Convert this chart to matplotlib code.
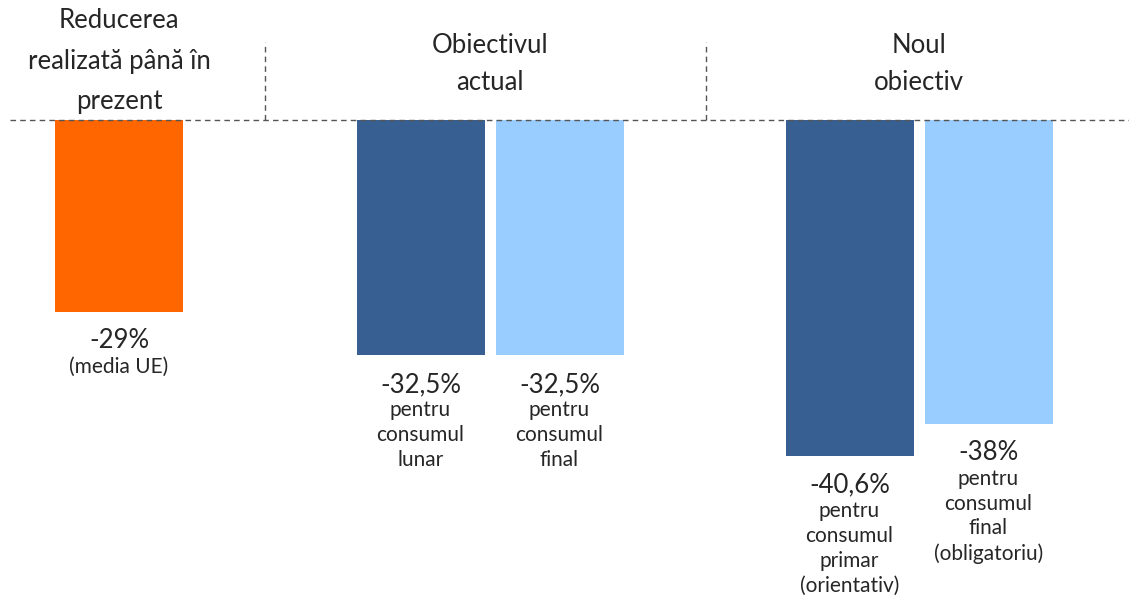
import matplotlib.pyplot as plt

plt.rcParams['font.family'] = ['Lato', 'DejaVu Sans']

# date
group_titles = ["Reducerea\nrealizată până în\nprezent", "Obiectivul\nactual", "Noul\nobiectiv"]
bar_groups = [0, 1, 1, 2, 2]
values = [-29, -32.5, -32.5, -40.6, -38]
value_labels = ["-29%", "-32,5%", "-32,5%", "-40,6%", "-38%"]
descriptions = [
    "(media UE)",
    "pentru\nconsumul\nlunar",
    "pentru\nconsumul\nfinal",
    "pentru\nconsumul\nprimar\n(orientativ)",
    "pentru\nconsumul\nfinal\n(obligatoriu)",
]
colors = ["#FF6600", "#375F91", "#99CCFF", "#375F91", "#99CCFF"]

# asezare (unitati ~ pixeli)
W, H = 1129, 602
top_px = 120
group_centers = [119, 490, 919]
step, width = 139, 128

fig = plt.figure(figsize=(W / 100, H / 100), dpi=100)
ax = fig.add_axes([0, 0, 1, (H - top_px) / H])
ax.set_xlim(0, W)
ax.set_ylim(-52.3, -13.6)
ax.axis("off")

# pozitia fiecarei bare in grupul ei
xs = []
for i, g in enumerate(bar_groups):
    n = bar_groups.count(g)
    k = bar_groups[:i].count(g)
    xs.append(group_centers[g] + (k - (n - 1) / 2) * step)

ax.bar(xs, values, width=width, color=colors)

txt = "#262626"
for x, v, lab, desc in zip(xs, values, value_labels, descriptions):
    ax.annotate(lab, xy=(x, v), xytext=(0, -29), textcoords="offset pixels",
                ha="center", va="center", fontsize=18.5, color=txt)
    ax.annotate(desc, xy=(x, v), xytext=(0, -45), textcoords="offset pixels",
                ha="center", va="top", fontsize=15, color=txt, linespacing=1.3)

# titluri de grup
frac = lambda py: (H - py) / (H - top_px)
tr = ax.get_xaxis_transform()
title_y = [61, 64, 64]
title_ls = [1.78, 1.56, 1.6]
for c, t, py, ls in zip(group_centers, group_titles, title_y, title_ls):
    ax.text(c, frac(py), t, transform=tr, ha="center", va="center",
            fontsize=18.5, color=txt, linespacing=ls)

# linii punctate
dash = dict(color="#555555", lw=1, linestyle=(0, (4, 3)), clip_on=False)
ax.plot([10, W], [1, 1], transform=tr, **dash)
for sx in [265, 706]:
    ax.plot([sx, sx], [1, frac(42)], transform=tr, **dash)

fig.savefig("out.png", dpi=100)
